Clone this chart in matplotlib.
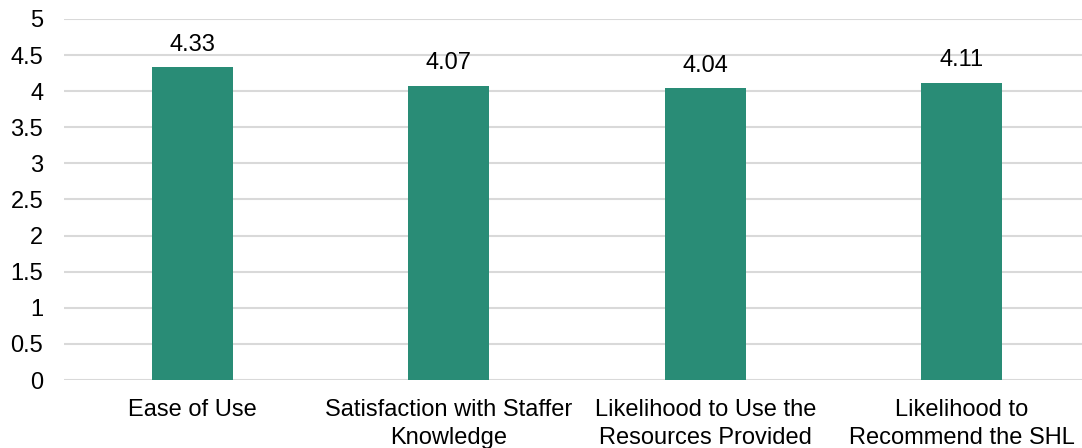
import matplotlib.pyplot as plt

# data
categories = ["Ease of Use", "Satisfaction with Staffer\nKnowledge",
              "Likelihood to Use the\nResources Provided", "Likelihood to\nRecommend the SHL"]
scores = [4.33, 4.07, 4.04, 4.11]
yticks = [0, 0.5, 1, 1.5, 2, 2.5, 3, 3.5, 4, 4.5, 5]
ytick_labels = ["0", "0.5", "1", "1.5", "2", "2.5", "3", "3.5", "4", "4.5", "5"]

plt.rcParams['font.family'] = ['Liberation Sans', 'DejaVu Sans']
FS = 17

fig = plt.figure(figsize=(10.82, 4.48), dpi=100)
# plot area runs off the right edge, like the source
ax = fig.add_axes([64 / 1082, 1 - 380 / 448, 1018 / 1082, 361 / 448])

x = range(len(categories))
bars = ax.bar(x, scores, width=0.316, color="#298C76", zorder=3)
for b, v in zip(bars, scores):
    ax.annotate(f"{v:.2f}", (b.get_x() + b.get_width() / 2, v), xytext=(0, 8.5),
                textcoords="offset points", ha="center", va="bottom", fontsize=FS)

ax.set_xlim(-0.5, 3.5 - 8 / 256.5)
ax.set_ylim(0, 5)
ax.set_yticks(yticks)
ax.set_yticklabels(ytick_labels, fontsize=FS)
ax.set_xticks(list(x))
ax.set_xticklabels(categories, fontsize=FS, linespacing=1.35)
ax.tick_params(axis="both", length=0)
ax.tick_params(axis="y", pad=15)
ax.tick_params(axis="x", pad=13.5)
ax.grid(axis="y", color="#D9D9D9", linewidth=1.5, zorder=0)
for s in ax.spines.values():
    s.set_visible(False)

fig.savefig("out.png", dpi=100)
